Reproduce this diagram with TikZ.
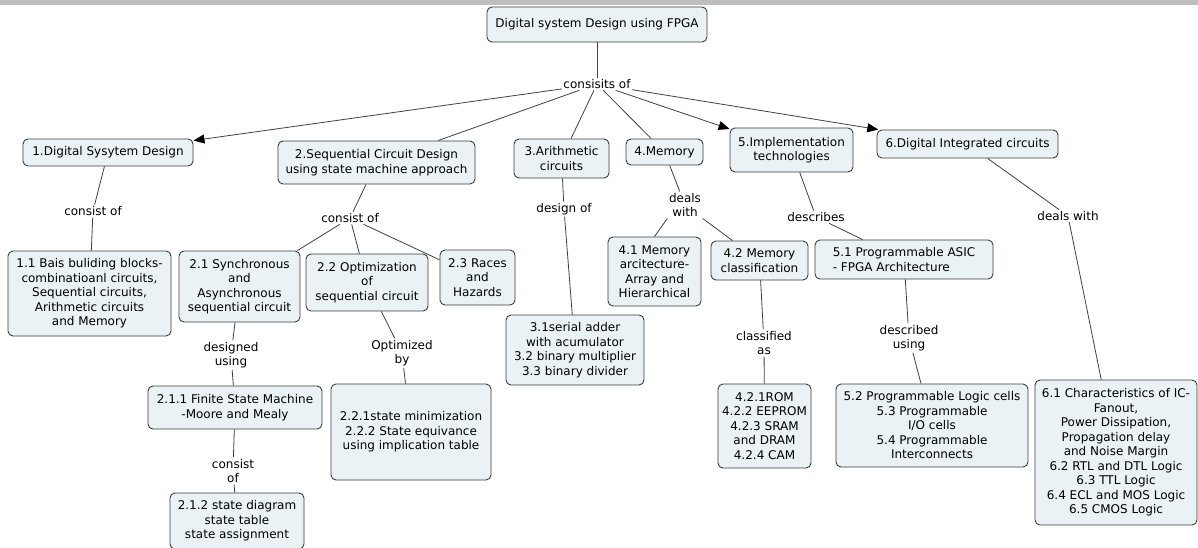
\documentclass[tikz,border=0pt]{standalone}
\usepackage{fontspec}
\setmainfont{DejaVu Sans}
\usetikzlibrary{arrows.meta}
\definecolor{boxfill}{RGB}{234,242,245}
\definecolor{boxline}{RGB}{60,60,60}
\definecolor{linkgrey}{RGB}{64,64,64}
\definecolor{bandgrey}{RGB}{190,190,190}

\begin{document}
\begin{tikzpicture}[x=1pt,y=-1pt,>={Triangle[length=11pt,width=9pt,color=black]},font=\fontsize{12}{14.5}\selectfont]
\tikzstyle{concept}=[draw=boxline,fill=boxfill,rounded corners=5pt,line width=0.9pt,align=center,inner sep=2pt]
\tikzstyle{phrase}=[align=center,inner sep=1.5pt]
\tikzstyle{link}=[draw=linkgrey,line width=0.8pt]
\useasboundingbox (0,0) rectangle (1198,547);
\fill[bandgrey] (0,0) rectangle (1198,5);
\node[concept,minimum width=220pt,minimum height=35pt] (fpga) at (597,24.5) {Digital system Design using FPGA};
\node[phrase] (consists) at (597,84) {consisits of};
\node[concept,minimum width=170pt,minimum height=27pt] (dsd) at (108,152.5) {1.Digital Sysytem Design};
\node[concept,minimum width=197pt,minimum height=43pt] (seq) at (376.5,162.5) {2.Sequential Circuit Design\\using state machine approach};
\node[concept,minimum width=95pt,minimum height=39pt] (arith) at (561.5,158.5) {3.Arithmetic\\circuits};
\node[concept,minimum width=77pt,minimum height=26pt] (mem) at (664.5,152) {4.Memory};
\node[concept,minimum width=123pt,minimum height=44pt] (impl) at (791.5,150) {5.Implementation\\technologies};
\node[concept,minimum width=181pt,minimum height=28pt] (dic) at (967.5,144) {6.Digital Integrated circuits};
\node[phrase] (dsdof) at (93,211) {consist of};
\node[concept,minimum width=163pt,minimum height=85pt] (blocks) at (89.5,293.5) {1.1 Bais buliding blocks-\\combinatioanl circuits,\\Sequential circuits,\\Arithmetic circuits\\and Memory};
\node[phrase] (seqof) at (350,218) {consist of};
\node[concept,minimum width=121pt,minimum height=71pt] (sync) at (239.5,286.5) {2.1 Synchronous\\and\\Asynchronous\\sequential circuit};
\node[concept,minimum width=122pt,minimum height=57pt] (optim) at (367,282.5) {2.2 Optimization\\of\\sequential circuit};
\node[concept,minimum width=75pt,minimum height=55pt] (races) at (477.5,277.5) {2.3 Races\\and\\Hazards};
\node[phrase] (designed) at (231,355) {designed\\using};
\node[concept,minimum width=174pt,minimum height=43pt] (fsm) at (235,407.5) {2.1.1 Finite State Machine\\-Moore and Mealy};
\node[phrase] (fsmof) at (233,471) {consist\\of};
\node[concept,minimum width=134pt,minimum height=56pt] (statediag) at (237,521) {2.1.2 state diagram\\state table\\state assignment};
\node[phrase] (optby) at (402,353) {Optimized\\by};
\node[concept,minimum width=160pt,minimum height=96pt] (statemin) at (411,432) {2.2.1state minimization\\2.2.2 State equivance\\using implication table};
\node[phrase] (designof) at (564,209) {design of};
\node[concept,minimum width=138pt,minimum height=70pt] (adder) at (575,350) {3.1serial adder\\with acumulator\\3.2 binary multiplier\\3.3 binary divider};
\node[phrase] (memdeals) at (685,205) {deals\\with};
\node[concept,minimum width=93pt,minimum height=69pt] (memarch) at (654.5,271.5) {4.1 Memory\\arcitecture-\\Array and\\Hierarchical};
\node[concept,minimum width=97pt,minimum height=39pt] (memclass) at (759.5,260.5) {4.2 Memory\\classification};
\node[phrase] (classas) at (764,343) {classified\\as};
\node[concept,minimum width=93pt,minimum height=84pt] (rom) at (764.5,426) {4.2.1ROM\\4.2.2 EEPROM\\4.2.3 SRAM\\and DRAM\\4.2.4 CAM};
\node[phrase] (describes) at (816,217) {describes};
\node[concept,align=left,minimum width=178pt,minimum height=39pt] (asic) at (904,259.5) {5.1 Programmable ASIC\\- FPGA Architecture};
\node[phrase] (descusing) at (909,338) {described\\using};
\node[concept,minimum width=192pt,minimum height=83pt] (cells) at (932,425.5) {5.2 Programmable Logic cells\\5.3 Programmable\\I/O cells\\5.4 Programmable\\Interconnects};
\node[phrase] (icdeals) at (1068,216) {deals with};
\node[concept,minimum width=162pt,minimum height=145pt] (charic) at (1116,452.5) {6.1 Characteristics of IC-\\Fanout,\\Power Dissipation,\\Propagation delay\\and Noise Margin\\6.2 RTL and DTL Logic\\6.3 TTL Logic\\6.4 ECL and MOS Logic\\6.5 CMOS Logic};
\draw[link] (fpga) -- (consists);
\draw[link,->] (consists) -- (dsd);
\draw[link] (consists) -- (seq);
\draw[link] (consists) -- (arith);
\draw[link] (consists) -- (mem);
\draw[link,->] (consists) -- (impl);
\draw[link,->] (consists) -- (dic);
\draw[link] (dsd) -- (dsdof);
\draw[link] (dsdof) -- (blocks);
\draw[link] (seq) -- (seqof);
\draw[link] (seqof) -- (sync);
\draw[link] (seqof) -- (optim);
\draw[link] (seqof) -- (races);
\draw[link] (sync) -- (designed);
\draw[link] (designed) -- (fsm);
\draw[link] (fsm) -- (fsmof);
\draw[link] (fsmof) -- (statediag);
\draw[link] (optim) -- (optby);
\draw[link] (optby) -- (statemin);
\draw[link] (arith) -- (designof);
\draw[link] (designof) -- (adder);
\draw[link] (mem) -- (memdeals);
\draw[link] (memdeals.south west) -- (memarch.north);
\draw[link] (memdeals.south east) -- (memclass);
\draw[link] (memclass) -- (classas);
\draw[link] (classas) -- (rom);
\draw[link] (impl) -- (describes);
\draw[link] (describes) -- (asic);
\draw[link] (asic) -- (descusing);
\draw[link] (descusing) -- (cells);
\draw[link] (dic) -- (icdeals);
\draw[link] (icdeals) -- (charic);
\end{tikzpicture}
\end{document}
